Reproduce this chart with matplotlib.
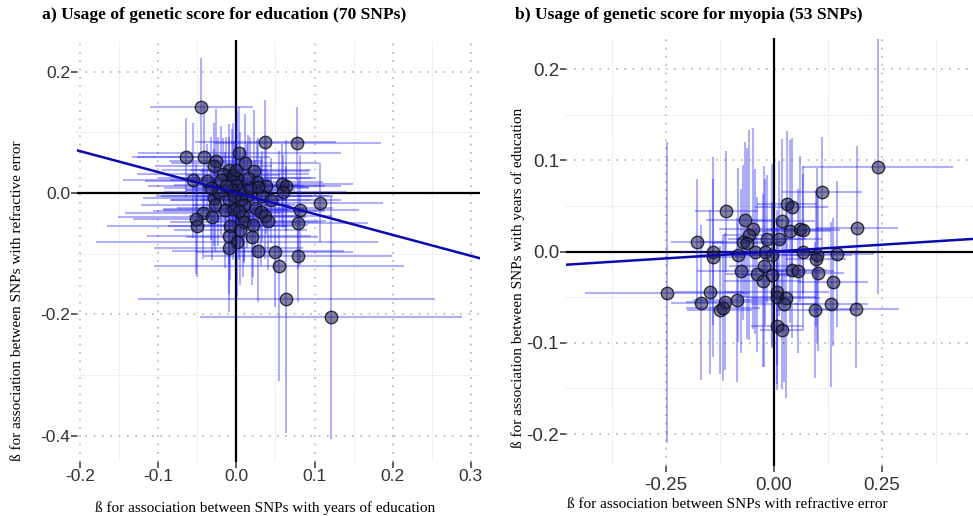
import numpy as np
import matplotlib
matplotlib.use('Agg')
import matplotlib.pyplot as plt

plt.rcParams['axes.unicode_minus'] = False

# === Panel a: genetic score for education (70 SNPs) ===
# x = beta with years of education, y = beta with refractive error
edu_x = [-0.045, 0.037, 0.078, -0.064, -0.042, 0.004, -0.026, -0.029, 0.011, -0.009,
         -0.017, 0.023, -0.020, -0.055, -0.037, 0.001, -0.004, 0.026, 0.038, 0.059,
         0.064, 0.060, 0.014, 0.005, 0.107, -0.029, 0.082, -0.043, -0.052, -0.031,
         -0.004, 0.009, 0.024, 0.031, 0.037, 0.040, 0.010, -0.050, -0.008, 0.079,
         -0.009, 0.020, 0.001, -0.010, 0.028, 0.049, 0.079, 0.055, 0.064, 0.121,
         0.000, 0.006, -0.005, 0.018, -0.013, 0.010, 0.033, -0.023, 0.000, 0.015,
         -0.010, 0.003, -0.033, 0.044, -0.014, 0.021, 0.005, -0.027, 0.028, -0.003]
edu_y = [0.142, 0.084, 0.082, 0.059, 0.059, 0.066, 0.053, 0.045, 0.050, 0.038,
         0.031, 0.036, 0.021, 0.021, 0.020, 0.025, 0.030, 0.018, 0.012, 0.015,
         0.012, 0.002, -0.005, 0.005, -0.016, -0.008, -0.028, -0.033, -0.043, -0.040,
         -0.026, -0.038, -0.025, -0.031, -0.038, -0.046, -0.047, -0.054, -0.054, -0.050,
         -0.071, -0.072, -0.081, -0.091, -0.095, -0.097, -0.104, -0.120, -0.175, -0.205,
         0.013, -0.012, 0.005, 0.008, 0.012, -0.020, -0.005, 0.002, 0.038, 0.025,
         -0.012, -0.030, 0.008, -0.012, -0.028, -0.053, -0.061, -0.020, 0.010, -0.005]
edu_xerr = [0.066, 0.090, 0.107, 0.070, 0.085, 0.130, 0.060, 0.075, 0.095, 0.050,
            0.110, 0.070, 0.065, 0.090, 0.080, 0.100, 0.060, 0.085, 0.075, 0.090,
            0.070, 0.080, 0.110, 0.070, 0.080, 0.090, 0.075, 0.100, 0.080, 0.120,
            0.090, 0.070, 0.100, 0.060, 0.085, 0.075, 0.095, 0.115, 0.080, 0.090,
            0.105, 0.085, 0.180, 0.095, 0.110, 0.100, 0.120, 0.160, 0.190, 0.168,
            0.080, 0.090, 0.060, 0.075, 0.100, 0.065, 0.085, 0.070, 0.095, 0.080,
            0.075, 0.110, 0.060, 0.090, 0.080, 0.070, 0.085, 0.095, 0.065, 0.100]
edu_yerr = [0.080, 0.070, 0.060, 0.065, 0.090, 0.075, 0.085, 0.070, 0.080, 0.075,
            0.060, 0.100, 0.090, 0.095, 0.060, 0.110, 0.085, 0.070, 0.080, 0.065,
            0.075, 0.060, 0.085, 0.095, 0.065, 0.080, 0.090, 0.075, 0.090, 0.070,
            0.085, 0.100, 0.080, 0.090, 0.070, 0.080, 0.065, 0.085, 0.090, 0.075,
            0.095, 0.080, 0.090, 0.105, 0.085, 0.090, 0.075, 0.190, 0.220, 0.200,
            0.090, 0.070, 0.100, 0.085, 0.080, 0.095, 0.075, 0.090, 0.080, 0.070,
            0.105, 0.080, 0.085, 0.070, 0.095, 0.085, 0.090, 0.075, 0.080, 0.090]
edu_slope = -0.345

# === Panel b: genetic score for myopia (53 SNPs) ===
# x = beta with refractive error, y = beta with years of education
myo_x = [0.241, 0.112, -0.110, 0.030, 0.041, -0.067, 0.020, -0.048, -0.057, 0.037,
         0.060, 0.068, 0.193, -0.178, -0.072, -0.062, -0.016, 0.012, -0.141, -0.141,
         -0.083, -0.044, -0.021, -0.005, 0.067, 0.100, 0.098, 0.146, -0.077, -0.023,
         -0.039, -0.026, -0.004, 0.043, 0.055, 0.102, 0.137, -0.248, -0.148, -0.169,
         -0.113, -0.125, -0.118, -0.086, 0.007, 0.007, 0.028, 0.023, 0.095, 0.132,
         0.190, 0.007, 0.019]
myo_y = [0.093, 0.065, 0.044, 0.052, 0.049, 0.035, 0.033, 0.025, 0.018, 0.022,
         0.025, 0.024, 0.026, 0.010, 0.010, 0.009, 0.014, 0.014, 0.000, -0.006,
         -0.004, 0.000, -0.001, -0.004, 0.000, -0.004, -0.008, -0.003, -0.021, -0.016,
         -0.025, -0.032, -0.026, -0.020, -0.021, -0.024, -0.033, -0.045, -0.044, -0.056,
         -0.055, -0.064, -0.062, -0.053, -0.044, -0.050, -0.051, -0.058, -0.064, -0.058,
         -0.063, -0.082, -0.086]
myo_xerr = [0.174, 0.092, 0.073, 0.070, 0.085, 0.090, 0.075, 0.080, 0.060, 0.095,
            0.070, 0.085, 0.095, 0.060, 0.100, 0.080, 0.090, 0.100, 0.075, 0.070,
            0.090, 0.070, 0.085, 0.095, 0.110, 0.080, 0.070, 0.085, 0.100, 0.080,
            0.075, 0.090, 0.070, 0.080, 0.085, 0.060, 0.080, 0.190, 0.080, 0.070,
            0.090, 0.075, 0.085, 0.100, 0.120, 0.090, 0.080, 0.075, 0.090, 0.085,
            0.100, 0.060, 0.050]
myo_yerr = [0.140, 0.060, 0.066, 0.080, 0.075, 0.085, 0.090, 0.110, 0.115, 0.100,
            0.080, 0.070, 0.090, 0.070, 0.085, 0.105, 0.070, 0.085, 0.080, 0.110,
            0.095, 0.090, 0.080, 0.100, 0.085, 0.095, 0.075, 0.080, 0.090, 0.110,
            0.085, 0.095, 0.080, 0.075, 0.090, 0.085, 0.070, 0.165, 0.090, 0.085,
            0.075, 0.070, 0.080, 0.090, 0.080, 0.095, 0.110, 0.085, 0.075, 0.090,
            0.065, 0.070, 0.065]
myo_slope = 0.030

W, H = 973, 516
fig = plt.figure(figsize=(W / 100, H / 100), dpi=100)
fig.patch.set_facecolor('white')


def px_axes(l, t, r, b):
    return fig.add_axes([l / W, 1 - b / H, (r - l) / W, (b - t) / H])


def draw_panel(ax, x, y, xe, ye, slope, xlim, ylim, xmaj, xmin, ymaj, ymin,
               xlabels, ylabels, lsize):
    ax.set_xlim(*xlim)
    ax.set_ylim(*ylim)
    for s in ax.spines.values():
        s.set_visible(False)
    ax.set_axisbelow(True)
    ax.set_xticks(xmaj)
    ax.set_xticklabels(xlabels)
    ax.set_yticks(ymaj)
    ax.set_yticklabels(ylabels)
    ax.set_xticks(xmin, minor=True)
    ax.set_yticks(ymin, minor=True)
    ax.grid(True, which='major', color='#b5b5b5', linestyle=(0, (1, 4)), linewidth=1.2, zorder=0)
    ax.grid(True, which='minor', color='#dcdcdc', linestyle=(0, (1, 1.5)), linewidth=0.8, zorder=0)
    ax.tick_params(which='major', length=4, width=1.1, color='#333333', pad=1,
                   labelsize=lsize, labelcolor='#333333')
    ax.tick_params(which='minor', length=0)
    for lab in ax.get_xticklabels() + ax.get_yticklabels():
        lab.set_family('Liberation Sans')
    ax.axhline(0, color='black', lw=1.6, zorder=1.8)
    ax.axvline(0, color='black', lw=1.6, zorder=1.8)
    ax.errorbar(x, y, xerr=xe, yerr=ye, fmt='none', ecolor=(0.1, 0.1, 0.95, 0.35),
                elinewidth=1.5, capsize=0, zorder=2)
    ax.scatter(x, y, s=80, facecolor=(0.14, 0.14, 0.32, 0.55), edgecolor=(0.05, 0.05, 0.1, 0.8),
               linewidth=1.0, zorder=3)
    ax.axline((0, 0), slope=slope, color='#0a0ab0', lw=1.8, zorder=4)


ax1 = px_axes(77, 40, 480, 462)
draw_panel(ax1, edu_x, edu_y, edu_xerr, edu_yerr, edu_slope,
           (-0.2038, 0.3116), (-0.443, 0.252),
           [-0.2, -0.1, 0.0, 0.1, 0.2, 0.3], [-0.15, -0.05, 0.05, 0.15, 0.25],
           [-0.4, -0.2, 0.0, 0.2], [-0.3, -0.1, 0.1],
           ['-0.2', '-0.1', '0.0', '0.1', '0.2', '0.3'], ['-0.4', '-0.2', '0.0', '0.2'], 12.5)

ax2 = px_axes(566, 38, 973, 466)
draw_panel(ax2, myo_x, myo_y, myo_xerr, myo_yerr, myo_slope,
           (-0.481, 0.461), (-0.235, 0.234),
           [-0.25, 0.0, 0.25], [-0.375, -0.125, 0.125, 0.375],
           [-0.2, -0.1, 0.0, 0.1, 0.2], [-0.15, -0.05, 0.05, 0.15],
           ['-0.25', '0.00', '0.25'], ['-0.2', '-0.1', '0.0', '0.1', '0.2'], 13.5)
ax2.tick_params(axis='x', pad=4)

serif = 'Liberation Serif'
fig.text(42 / W, 1 - 15 / H, 'a) Usage of genetic score for education (70 SNPs)',
         family=serif, weight='bold', fontsize=12.6, va='center', ha='left')
fig.text(515 / W, 1 - 15 / H, 'b) Usage of genetic score for myopia (53 SNPs)',
         family=serif, weight='bold', fontsize=12.6, va='center', ha='left')
fig.text(265 / W, 1 - 508 / H, 'ß for association between SNPs with years of education',
         family=serif, fontsize=11, va='center', ha='center')
fig.text(727 / W, 1 - 505 / H, 'ß for association between SNPs with refractive error',
         family=serif, fontsize=11, va='center', ha='center')
fig.text(18 / W, 1 - 301 / H, 'ß for association between SNPs with refractive error',
         family=serif, fontsize=11, va='center', ha='center', rotation=90)
fig.text(518 / W, 1 - 278 / H, 'ß for association between SNPs with years of education',
         family=serif, fontsize=11, va='center', ha='center', rotation=90)

fig.savefig('out.png', dpi=100, facecolor='white')
